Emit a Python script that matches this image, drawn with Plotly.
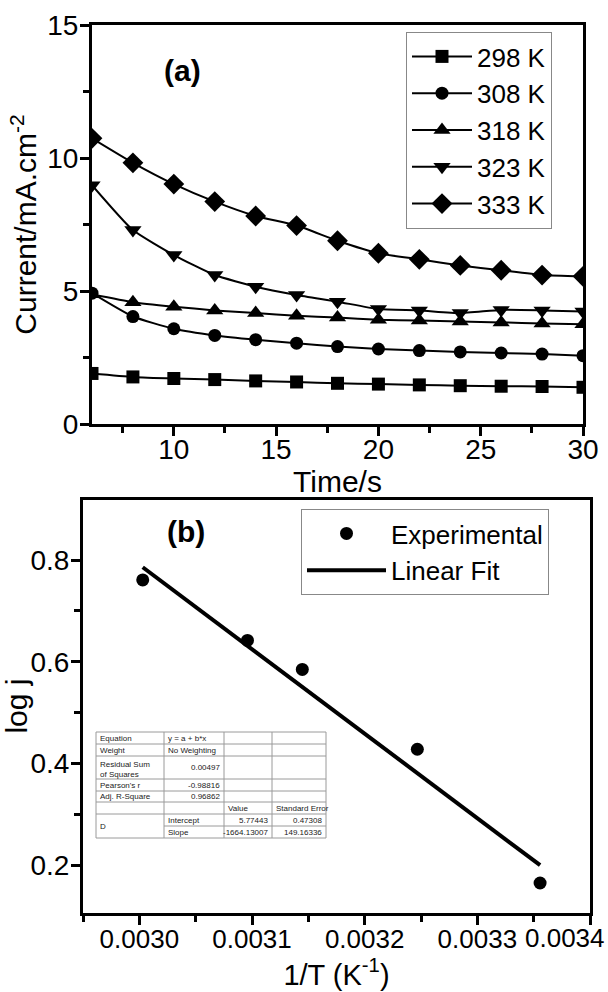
import plotly.graph_objects as go

W, H = 608, 992
FONT = "Liberation Sans, Arial, sans-serif"

# ---------------- data: panel (a) ----------------
time_s = [6, 8, 10, 12, 14, 16, 18, 20, 22, 24, 26, 28, 30]
cur_298 = [1.90, 1.77, 1.71, 1.67, 1.62, 1.58, 1.53, 1.50, 1.47, 1.44, 1.42, 1.41, 1.38]
cur_308 = [4.92, 4.04, 3.58, 3.33, 3.17, 3.04, 2.91, 2.82, 2.76, 2.71, 2.67, 2.63, 2.57]
cur_318 = [4.88, 4.58, 4.41, 4.27, 4.17, 4.07, 4.00, 3.92, 3.89, 3.85, 3.82, 3.78, 3.75]
cur_323 = [8.98, 7.29, 6.35, 5.60, 5.16, 4.85, 4.60, 4.32, 4.27, 4.17, 4.29, 4.27, 4.23]
cur_333 = [10.74, 9.82, 9.02, 8.36, 7.82, 7.46, 6.89, 6.42, 6.19, 5.96, 5.78, 5.60, 5.55]
series_names = ["298 K", "308 K", "318 K", "323 K", "333 K"]
series_symbols = ["square", "circle", "triangle-up", "triangle-down", "diamond"]
series_sizes = [13, 13, 15, 15, 16]
time_ticks = [10, 15, 20, 25, 30]
current_ticks = [0, 5, 10, 15]

# ---------------- data: panel (b) ----------------
inv_T = [1/333, 1/323, 1/318, 1/308, 1/298]
log_j = [0.761, 0.642, 0.585, 0.428, 0.165]
fit_x = [1/333, 1/298]
fit_y = [0.786, 0.200]
invT_ticks = [0.0030, 0.0031, 0.0032, 0.0033, 0.0034]
invT_labels = ["0.0030", "0.0031", "0.0032", "0.0033", "0.0034"]
logj_ticks = [0.2, 0.4, 0.6, 0.8]
logj_labels = ["0.2", "0.4", "0.6", "0.8"]

# ---------------- fit table text ----------------
table_col1 = ["Equation", "Weight", "Residual Sum<br>of Squares", "Pearson's r", "Adj. R-Square", "", "D", ""]
table_col2 = ["y = a + b*x", "No Weighting", "0.00497", "-0.98816", "0.96862", "", "Intercept", "Slope"]
table_col3 = ["", "", "", "", "", "Value", "5.77443", "-1664.13007"]
table_col4 = ["", "", "", "", "", "Standard Error", "0.47308", "149.16336"]


def px(x):
    return x / W


def py(y):
    return 1 - y / H


fig = go.Figure()

for name, sym, size, ys in zip(series_names, series_symbols, series_sizes,
                               [cur_298, cur_308, cur_318, cur_323, cur_333]):
    fig.add_trace(go.Scatter(
        x=time_s, y=ys, name=name, mode="lines+markers",
        line=dict(color="black", width=2, shape="spline", smoothing=0.5),
        marker=dict(symbol=sym, size=size, color="black"),
        xaxis="x", yaxis="y", legend="legend"))

fig.add_trace(go.Scatter(
    x=inv_T, y=log_j, name="Experimental", mode="markers",
    marker=dict(symbol="circle", size=13, color="black"),
    xaxis="x2", yaxis="y2", legend="legend2"))
fig.add_trace(go.Scatter(
    x=fit_x, y=fit_y, name="Linear Fit", mode="lines",
    line=dict(color="black", width=4),
    xaxis="x2", yaxis="y2", legend="legend2"))

axis_common = dict(
    showline=True, linewidth=3, linecolor="black", mirror=True,
    ticks="outside", ticklen=9, tickwidth=2.5, tickcolor="black",
    showgrid=False, zeroline=False, automargin=False,
)
minor_common = dict(ticks="outside", ticklen=6, tickwidth=2.5, tickcolor="black")

# the last 1/T label is drawn as an annotation so it can sit inside the page
x2_ticktext = invT_labels[:-1] + [""]

fig.update_layout(
    width=W, height=H,
    margin=dict(l=0, r=0, t=0, b=0, pad=0, autoexpand=False),
    paper_bgcolor="white", plot_bgcolor="white",
    font=dict(family=FONT, color="black"),
    xaxis=dict(
        domain=[px(92), px(583)], anchor="y", range=[6, 30],
        tickvals=time_ticks, ticklabelstandoff=-11,
        tickfont=dict(family=FONT, size=28, color="black"),
        minor=dict(tickvals=[7.5, 12.5, 17.5, 22.5, 27.5], **minor_common),
        title=dict(text="Time/s", font=dict(family=FONT, size=30), standoff=0),
        **axis_common),
    yaxis=dict(
        domain=[py(424), py(25)], anchor="x", range=[0, 15],
        tickvals=current_ticks, ticklabelstandoff=-4,
        tickfont=dict(family=FONT, size=28, color="black"),
        minor=dict(tickvals=[2.5, 7.5, 12.5], **minor_common),
        title=dict(text="Current/mA.cm<sup>-2</sup>", font=dict(family=FONT, size=30), standoff=2),
        **axis_common),
    xaxis2=dict(
        domain=[px(83), px(590)], anchor="y2", range=[0.00295, 0.0034],
        tickvals=invT_ticks, ticktext=x2_ticktext, ticklabelstandoff=-8,
        tickfont=dict(family=FONT, size=26, color="black"),
        minor=dict(tickvals=[0.00295, 0.00305, 0.00315, 0.00325, 0.00335], **minor_common),
        title=dict(text="1/T (K<sup>-1</sup>)", font=dict(family=FONT, size=29), standoff=12),
        **axis_common),
    yaxis2=dict(
        domain=[py(912.5), py(499.6)], anchor="x2", range=[0.107, 0.919],
        tickvals=logj_ticks, ticktext=logj_labels, ticklabelstandoff=-4,
        tickfont=dict(family=FONT, size=28, color="black"),
        minor=dict(tickvals=[0.3, 0.5, 0.7], **minor_common),
        title=dict(text="log j", font=dict(family=FONT, size=30), standoff=4),
        **axis_common),
    legend=dict(
        x=px(406), y=py(32), xanchor="left", yanchor="top",
        bgcolor="white", bordercolor="#888888", borderwidth=1,
        font=dict(family=FONT, size=26, color="black"),
        tracegroupgap=0, itemwidth=60),
    legend2=dict(
        x=px(301), y=py(509), xanchor="left", yanchor="top",
        bgcolor="white", bordercolor="#888888", borderwidth=1,
        font=dict(family=FONT, size=26, color="black"),
        tracegroupgap=0, itemwidth=79),
    showlegend=True,
)

annotations = [
    dict(text="<b>(a)</b>", x=px(162), y=py(52), xref="paper", yref="paper",
         showarrow=False, font=dict(family=FONT, size=30, color="black")),
    dict(text="<b>(b)</b>", x=px(165), y=py(531), xref="paper", yref="paper",
         showarrow=False, font=dict(family=FONT, size=30, color="black")),
    dict(text=invT_labels[-1], x=invT_ticks[-1], xref="x2", y=py(938), yref="paper",
         xanchor="right", yanchor="middle", xshift=17, showarrow=False,
         font=dict(family=FONT, size=26, color="black")),
]

# ---------------- inset fit table ----------------
col_x = [96, 164, 224, 272, 326]
row_y = [732, 744, 756, 779, 791, 802, 814, 826, 838]
grey = "#9a9a9a"
shapes = []
for cx in col_x:
    shapes.append(dict(type="line", xref="paper", yref="paper",
                       x0=px(cx), x1=px(cx), y0=py(row_y[0]), y1=py(row_y[-1]),
                       line=dict(color=grey, width=1)))
for i, ry in enumerate(row_y):
    x_start = col_x[1] if i == 7 else col_x[0]  # merged "D" cell
    shapes.append(dict(type="line", xref="paper", yref="paper",
                       x0=px(x_start), x1=px(col_x[-1]), y0=py(ry), y1=py(ry),
                       line=dict(color=grey, width=1)))

cols = [table_col1, table_col2, table_col3, table_col4]
for ci, col in enumerate(cols):
    for ri, txt in enumerate(col):
        if not txt:
            continue
        top, bot = row_y[ri], row_y[ri + 1]
        if ci == 0 and txt == "D":
            bot = row_y[ri + 2]
        is_num = txt[0].isdigit() or txt[0] == "-"
        if is_num and ci > 0:
            x, anchor = px(col_x[ci + 1] - 2), "right"
        else:
            x, anchor = px(col_x[ci] + 2), "left"
        yanchor = "middle"
        yc = (top + bot) / 2
        if "<br>" in txt:
            yc = top + 2
            yanchor = "top"
        annotations.append(dict(
            text=txt, x=x, y=py(yc), xref="paper", yref="paper",
            xanchor=anchor, yanchor=yanchor, align="left", showarrow=False,
            font=dict(family=FONT, size=8, color="#222222")))

fig.update_layout(annotations=annotations, shapes=shapes)

fig.write_html("out.html")
